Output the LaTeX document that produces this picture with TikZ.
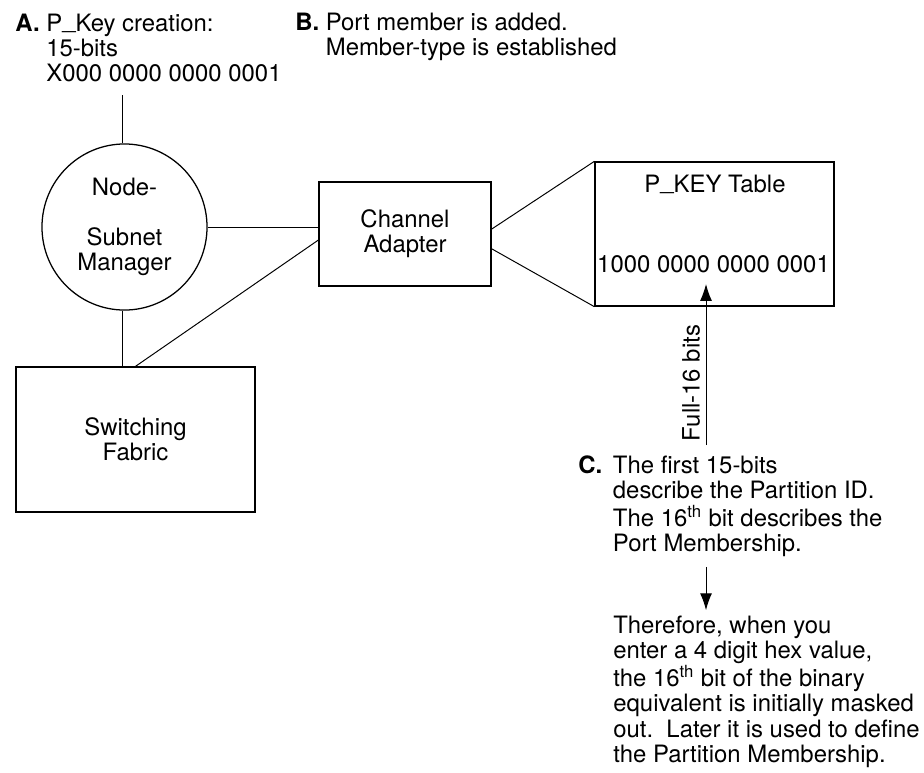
\documentclass[tikz,border=0pt]{standalone}
\usepackage{fontspec}
\setmainfont{TeX Gyre Heros}
\usetikzlibrary{shapes.geometric,arrows.meta}
\newcommand{\usc}{\raisebox{0.1em}{\_}}

\begin{document}
\begin{tikzpicture}[x=0.025cm,y=-0.025cm,
    font=\fontsize{17}{17.9}\selectfont,
    box/.style={draw,line width=0.9pt,inner sep=0pt,align=center},
    wire/.style={line width=0.7pt},
    arr/.style={line width=0.7pt,-{Latex[length=12pt,width=8.5pt]}},
    note/.style={anchor=base west,inner sep=0pt}]
    \useasboundingbox (0,0) rectangle (924,772);

    % notes
    \node[note] at (15,31) (A) {\begin{tabular}[t]{@{}l@{ }l@{}}\textbf{A.} & P\usc Key creation:\\ & 15-bits\\ & X000 0000 0000 0001\end{tabular}};
    \node[note] at (295,30) (B) {\begin{tabular}[t]{@{}l@{ }l@{}}\textbf{B.} & Port member is added.\\ & Member-type is established\end{tabular}};
    \node[note] at (578,473) (C) {\begin{tabular}[t]{@{}l@{\hspace{0.45em}}l@{}}\textbf{C.} & The first 15-bits\\ & describe the Partition ID.\\ & The 16\textsuperscript{th} bit describes the\\ & Port Membership.\end{tabular}};
    \node[note] at (613,633) (T) {\begin{tabular}[t]{@{}l@{}}Therefore, when you\\ enter a 4 digit hex value,\\ the 16\textsuperscript{th} bit of the binary\\ equivalent is initially masked\\ out.\ \ Later it is used to define\\ the Partition Membership.\end{tabular}};

    % boxes
    \node[box,ellipse,minimum width=4.125cm,minimum height=4.15cm] at (124.5,227) (SM) {Node-\\ \\Subnet\\Manager};
    \node[box,minimum width=4.3cm,minimum height=2.6cm] at (405,234) (CA) {Channel\\Adapter};
    \node[box,minimum width=5.975cm,minimum height=3.625cm] at (135.5,439.5) (SF) {Switching\\Fabric};
    \node[box,minimum width=5.975cm,minimum height=3.6cm] at (714.5,234) (PT) {};
    \node[anchor=base] at (715,192) (PTname) {P\usc KEY Table};
    \node[anchor=base] at (713.5,272) (PTbits) {1000 0000 0000 0001};

    \coordinate (Atail) at (122,95);
    \coordinate (Fbot) at (706,445);
    \coordinate (Ftip) at (706,284);
    \node[rotate=90] at (691,383) (F) {Full-16 bits};

    \draw[wire] (Atail) -- (Atail |- SM.north);
    \draw[wire] (SM.east) -- (SM.east -| CA.west);
    \draw[wire] (Atail |- SM.south) -- (Atail |- SF.north);
    \draw[wire] ([yshift=-4.3pt]CA.west) -- (SF.north);
    \draw[wire] ([yshift=3.5pt]CA.east) -- (PT.north west);
    \draw[wire] ([yshift=-10.5pt]CA.east) -- (PT.south west);
    \draw[arr] (Fbot) -- (Ftip);
    \draw[arr] ([yshift=-5pt]C.south -| Fbot) -- ([yshift=3.5pt]T.north -| Fbot);
\end{tikzpicture}
\end{document}
